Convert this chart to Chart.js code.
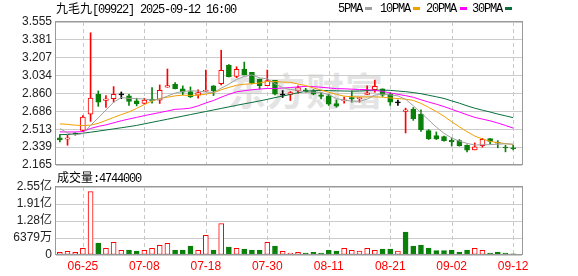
<!DOCTYPE html>
<html><head><meta charset="utf-8">
<script src="https://cdn.jsdelivr.net/npm/chart.js@4/dist/chart.umd.min.js"></script>
<style>
html,body{margin:0;padding:0;background:#fff;}
#wrap{position:relative;width:578px;height:276px;overflow:hidden;background:#fff;}
canvas{position:absolute;left:0;top:0;}
.t{position:absolute;white-space:nowrap;font-size:12px;line-height:12px;color:#000;}
.cjk{font-family:"Noto Sans CJK SC";}
.asc{font-family:"Liberation Mono";letter-spacing:-1.2px;}
.sq{position:absolute;width:7px;height:3px;}
.wm{position:absolute;left:228px;top:66px;font:bold 38px "Noto Sans CJK SC";line-height:46px;color:#e4e4e4;letter-spacing:1px;white-space:nowrap;}
</style></head>
<body>
<div id="wrap">
  <div class="wm">东方财富</div>
  <canvas id="price" width="578" height="276"></canvas>
  <canvas id="vol" width="578" height="276"></canvas>
  <div class="t" style="left:56px;top:2px;"><span class="cjk">九毛九</span><span class="asc">[09922] 2025-09-12 16:00</span></div>
  <div class="t asc" style="left:338px;top:3px;">5PMA</div><div class="sq" style="left:365px;top:7px;background:#a0a0a0"></div>
  <div class="t asc" style="left:380px;top:3px;">10PMA</div><div class="sq" style="left:413px;top:7px;background:#f0a000"></div>
  <div class="t asc" style="left:426px;top:3px;">20PMA</div><div class="sq" style="left:460px;top:7px;background:#ff00ff"></div>
  <div class="t asc" style="left:472px;top:3px;">30PMA</div><div class="sq" style="left:505px;top:7px;background:#0a6e3c"></div>
  <div class="t" id="volTitle" style="left:57px;top:171px;"></div>
</div>
<script>
const dates = ['06-20','06-23','06-24','06-25','06-26','06-27','06-30','07-02','07-03','07-04','07-07','07-08','07-09','07-10','07-11','07-14','07-15','07-16','07-17','07-18','07-21','07-22','07-23','07-24','07-25','07-28','07-29','07-30','07-31','08-01','08-04','08-05','08-06','08-07','08-08','08-11','08-12','08-13','08-14','08-15','08-18','08-19','08-20','08-21','08-22','08-25','08-26','08-27','08-28','08-29','09-01','09-02','09-03','09-04','09-05','09-08','09-09','09-10','09-11','09-12'];
const markedDates = ['06-25','07-08','07-18','07-30','08-11','08-21','09-02','09-12'];
const opens  = [2.430,2.415,2.475,2.500,2.660,2.853,2.792,2.810,2.846,2.837,2.789,2.763,2.805,2.795,2.921,2.950,2.905,2.879,2.843,2.882,2.934,2.956,3.136,3.027,3.098,3.066,2.998,2.937,2.988,2.844,2.850,2.885,2.895,2.882,2.847,2.837,2.763,2.789,2.821,2.808,2.850,2.898,2.905,2.853,2.769,2.686,2.708,2.660,2.499,2.451,2.441,2.406,2.402,2.357,2.312,2.354,2.422,2.386,2.338,2.328];
const highs  = [2.460,2.454,2.480,2.645,3.450,2.885,2.840,2.927,2.875,2.853,2.814,2.814,2.917,2.943,3.098,2.966,2.934,2.924,2.895,3.088,2.937,3.281,3.140,3.120,3.165,3.066,3.000,3.088,2.988,2.889,2.879,2.934,2.911,2.898,2.872,2.853,2.798,2.824,2.885,2.821,2.934,2.991,2.905,2.869,2.795,2.718,2.724,2.702,2.509,2.486,2.447,2.428,2.412,2.360,2.380,2.425,2.422,2.402,2.357,2.357];
const lows   = [2.390,2.357,2.455,2.490,2.590,2.735,2.725,2.776,2.810,2.744,2.740,2.756,2.766,2.763,2.920,2.905,2.847,2.821,2.814,2.880,2.840,2.943,3.020,3.014,3.040,2.953,2.905,2.937,2.847,2.821,2.792,2.863,2.872,2.847,2.808,2.744,2.727,2.766,2.776,2.776,2.850,2.872,2.831,2.744,2.744,2.476,2.599,2.492,2.412,2.412,2.396,2.348,2.348,2.293,2.312,2.338,2.370,2.332,2.293,2.312];
const closes = [2.410,2.428,2.465,2.630,2.815,2.776,2.808,2.853,2.846,2.782,2.760,2.795,2.790,2.892,2.937,2.908,2.872,2.827,2.869,2.892,2.886,3.085,3.024,3.095,3.040,2.960,2.937,2.985,2.853,2.844,2.869,2.917,2.879,2.853,2.831,2.756,2.737,2.798,2.808,2.821,2.866,2.930,2.844,2.776,2.769,2.702,2.615,2.509,2.422,2.418,2.402,2.390,2.354,2.310,2.341,2.415,2.393,2.377,2.330,2.323];
const ma5  = [2.520,2.475,2.458,2.470,2.550,2.623,2.699,2.776,2.820,2.813,2.810,2.807,2.795,2.804,2.835,2.864,2.880,2.887,2.883,2.874,2.869,2.912,2.951,2.996,3.026,3.041,3.011,3.003,2.955,2.916,2.898,2.894,2.872,2.872,2.870,2.847,2.811,2.795,2.786,2.784,2.806,2.845,2.854,2.847,2.837,2.804,2.741,2.674,2.603,2.533,2.473,2.428,2.397,2.375,2.359,2.362,2.363,2.367,2.371,2.368];
const ma10 = [2.565,2.560,2.552,2.548,2.552,2.570,2.598,2.627,2.655,2.681,2.716,2.753,2.786,2.812,2.824,2.837,2.844,2.841,2.843,2.854,2.867,2.896,2.919,2.940,2.950,2.955,2.962,2.977,2.976,2.971,2.969,2.952,2.938,2.914,2.893,2.872,2.852,2.834,2.829,2.827,2.827,2.828,2.824,2.817,2.811,2.805,2.793,2.764,2.725,2.685,2.639,2.585,2.536,2.489,2.446,2.418,2.395,2.382,2.373,2.364];
const ma20 = [2.487,2.486,2.486,2.490,2.520,2.540,2.555,2.575,2.595,2.612,2.628,2.645,2.660,2.675,2.690,2.706,2.710,2.718,2.740,2.768,2.792,2.824,2.852,2.876,2.887,2.896,2.903,2.909,2.909,2.913,2.918,2.924,2.929,2.927,2.921,2.914,2.907,2.906,2.902,2.899,2.898,2.890,2.881,2.865,2.852,2.839,2.823,2.799,2.777,2.756,2.733,2.706,2.680,2.653,2.628,2.611,2.594,2.573,2.549,2.524];
const ma30 = [2.460,2.462,2.466,2.474,2.484,2.494,2.505,2.516,2.527,2.538,2.550,2.565,2.580,2.595,2.610,2.625,2.640,2.655,2.670,2.685,2.700,2.715,2.730,2.745,2.760,2.773,2.788,2.803,2.820,2.835,2.851,2.867,2.881,2.888,2.889,2.888,2.886,2.884,2.883,2.884,2.888,2.892,2.894,2.890,2.884,2.878,2.869,2.858,2.843,2.828,2.812,2.788,2.766,2.740,2.717,2.698,2.680,2.660,2.643,2.625];
const volumes = [1.00e7,1.37e7,1.00e7,2.49e7,2.376e8,4.48e7,2.49e7,4.73e7,1.74e7,1.87e7,1.49e7,1.74e7,2.49e7,3.61e7,4.35e7,1.87e7,1.87e7,3.36e7,1.74e7,7.34e7,1.87e7,1.18e8,2.99e7,2.49e7,2.24e7,1.87e7,1.87e7,4.73e7,3.36e7,1.37e7,7.5e6,1.00e7,7.5e6,1.00e7,7.5e6,1.74e7,1.49e7,2.49e7,1.74e7,1.49e7,2.49e7,1.74e7,2.24e7,2.24e7,1.49e7,8.58e7,3.36e7,3.73e7,2.61e7,1.62e7,1.62e7,1.87e7,1.12e7,1.87e7,2.49e7,1.74e7,7.5e6,1.12e7,7.5e6,4744000];
const volUp = [1,1,1,1,1,0,1,1,1,0,0,1,1,1,1,0,0,0,1,1,0,1,0,1,0,0,0,1,0,1,1,1,0,0,0,0,0,1,1,1,1,1,0,0,1,0,0,0,0,0,0,0,0,0,1,1,0,0,0,0];
const priceTickValues = [2.165,2.339,2.513,2.686,2.860,3.034,3.207,3.381,3.555];
const priceTickLabels = ['2.165','2.339','2.513','2.686','2.860','3.034','3.207','3.381','3.555'];
const volTickValues = [0,63790000,127580000,191370000,255160000];
const volTickLabels = ['0','6379万','1.28亿','1.91亿','2.55亿'];

const RED = '#ff0000', GREEN = '#0a800a', BLACK = '#000000';
const N = dates.length;
const markIdx = markedDates.map(d => dates.indexOf(d));
const XMIN = -0.5, XMAX = 60.15;

document.getElementById('volTitle').innerHTML = '<span class="cjk">成交量</span><span class="asc">:' + volumes[N-1] + '</span>';

const deco = {
  id: 'deco',
  beforeDatasetsDraw(chart) {
    const {ctx, chartArea: a, scales: {x}} = chart;
    ctx.save();
    ctx.strokeStyle = '#c8c8c8'; ctx.lineWidth = 1; ctx.setLineDash([4, 3]);
    markIdx.forEach(i => {
      const px = Math.round(x.getPixelForValue(i)) + 0.5;
      ctx.beginPath(); ctx.moveTo(px, a.top); ctx.lineTo(px, a.bottom); ctx.stroke();
    });
    ctx.restore();
  },
  afterDraw(chart) {
    const {ctx, chartArea: a} = chart;
    ctx.save();
    ctx.strokeStyle = '#999'; ctx.lineWidth = 1;
    const l = Math.round(a.left) - 0.5, r = Math.round(a.right) + 0.5, t = Math.round(a.top) - 0.5, b = Math.round(a.bottom) - 0.5;
    ctx.strokeRect(l, t, r - l, b - t);
    ctx.restore();
  }
};

const candleColor = i => closes[i] > opens[i] ? RED : (closes[i] < opens[i] ? GREEN : BLACK);
const candleFill = i => closes[i] > opens[i] ? '#ffffff' : candleColor(i);
const line = (label, arr, color) => ({
  type: 'line', label, data: arr.map((v, i) => ({x: i, y: v})),
  borderColor: color, borderWidth: 1, pointRadius: 0, tension: 0, order: 0
});

new Chart(document.getElementById('price'), {
  type: 'bar',
  data: {
    datasets: [
      line('5PMA', ma5, '#a0a0a0'),
      line('10PMA', ma10, '#f0a000'),
      line('20PMA', ma20, '#ff00ff'),
      line('30PMA', ma30, '#0a6e3c'),
      {
        type: 'bar', label: 'body', order: 1, grouped: false,
        data: opens.map((o, i) => ({x: i, y: [o, closes[i]]})),
        backgroundColor: dates.map((d, i) => candleFill(i)),
        borderColor: dates.map((d, i) => candleColor(i)),
        borderWidth: 1, borderSkipped: false, barThickness: 5, minBarLength: 1
      },
      {
        type: 'bar', label: 'wick', order: 2, grouped: false,
        data: lows.map((l, i) => ({x: i, y: [l, highs[i]]})),
        backgroundColor: dates.map((d, i) => candleColor(i)),
        borderWidth: 0, barThickness: 1
      }
    ]
  },
  options: {
    responsive: false, animation: false, events: [],
    layout: {padding: {top: 22, right: 56, bottom: 111, left: 0}},
    plugins: {legend: {display: false}, tooltip: {enabled: false}},
    scales: {
      x: {type: 'linear', min: XMIN, max: XMAX, offset: false, display: false},
      y: {
        min: 2.165, max: 3.555,
        afterBuildTicks: s => { s.ticks = priceTickValues.map(v => ({value: v})); },
        afterFit: s => { s.width = 56; },
        ticks: {
          autoSkip: false, padding: 4, color: '#222', font: {family: 'Liberation Sans', size: 12},
          callback: (v, i) => priceTickLabels[i]
        },
        grid: {color: '#cccccc', drawTicks: false},
        border: {display: false}
      }
    }
  },
  plugins: [deco]
});

new Chart(document.getElementById('vol'), {
  type: 'bar',
  data: {
    datasets: [{
      label: 'vol', grouped: false,
      data: volumes.map((v, i) => ({x: i, y: v})),
      backgroundColor: volUp.map(u => u ? '#ffffff' : GREEN),
      borderColor: volUp.map(u => u ? RED : GREEN),
      borderWidth: 1, borderSkipped: false, barThickness: 5, minBarLength: 1
    }]
  },
  options: {
    responsive: false, animation: false, events: [],
    layout: {padding: {top: 187, right: 56, bottom: 0, left: 0}},
    plugins: {legend: {display: false}, tooltip: {enabled: false}},
    scales: {
      x: {
        type: 'linear', min: XMIN, max: XMAX, offset: false,
        afterBuildTicks: s => { s.ticks = markIdx.map(v => ({value: v})); },
        afterFit: s => { s.height = 21; },
        grid: {display: false, drawTicks: false}, border: {display: false},
        ticks: {
          autoSkip: false, maxRotation: 0, minRotation: 0, padding: 4, color: RED,
          font: {family: 'Liberation Sans', size: 12},
          callback: v => dates[v]
        }
      },
      y: {
        min: 0, max: volTickValues[volTickValues.length - 1],
        afterBuildTicks: s => { s.ticks = volTickValues.map(v => ({value: v})); },
        afterFit: s => { s.width = 56; },
        ticks: {
          autoSkip: false, padding: 4, color: '#222', font: {family: '"Liberation Sans","Noto Sans CJK SC"', size: 12},
          callback: (v, i) => volTickLabels[i]
        },
        grid: {color: '#cccccc', drawTicks: false},
        border: {display: false}
      }
    }
  },
  plugins: [deco]
});
</script>
</body></html>
